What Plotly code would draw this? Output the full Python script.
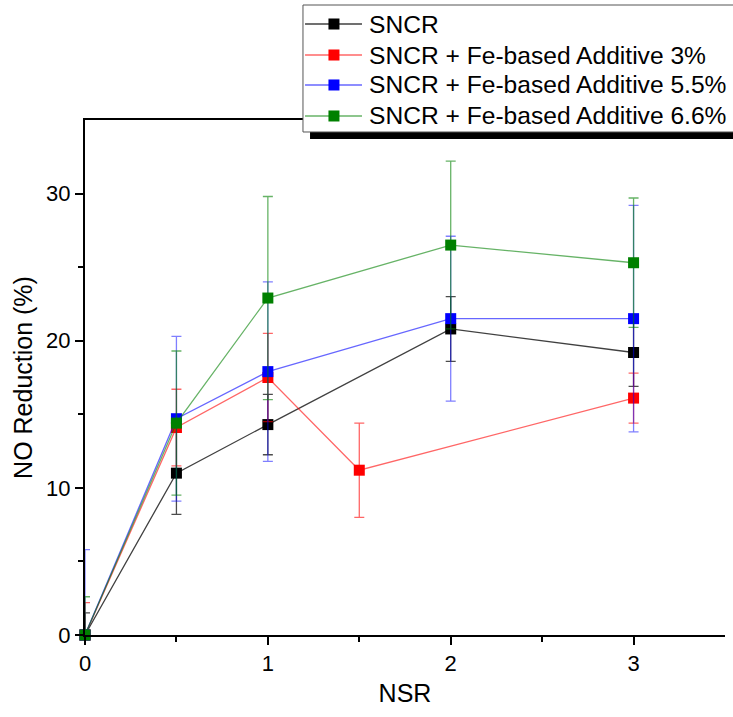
import plotly.graph_objects as go

x_sncr = [0, 0.5, 1, 2, 3]
y_sncr = [0, 11.0, 14.3, 20.8, 19.2]
e_sncr = [1.5, 2.8, 2.05, 2.2, 2.3]

x_fe3 = [0, 0.5, 1, 1.5, 3]
y_fe3 = [0, 14.1, 17.5, 11.2, 16.1]
e_fe3 = [2.2, 2.6, 3.0, 3.2, 1.7]

x_fe55 = [0, 0.5, 1, 2, 3]
y_fe55 = [0, 14.7, 17.9, 21.5, 21.5]
e_fe55 = [5.8, 5.6, 6.1, 5.6, 7.7]

x_fe66 = [0, 0.5, 1, 2, 3]
y_fe66 = [0, 14.4, 22.9, 26.5, 25.3]
e_fe66 = [2.6, 4.9, 6.9, 5.7, 4.4]

names = ["SNCR", "SNCR + Fe-based Additive 3%",
         "SNCR + Fe-based Additive 5.5%", "SNCR + Fe-based Additive 6.6%"]

series = [
    (x_sncr, y_sncr, e_sncr, "#000000", "rgba(0,0,0,0.75)", "rgba(0,0,0,0.7)"),
    (x_fe3, y_fe3, e_fe3, "#ff0000", "rgba(255,0,0,0.6)", "rgba(255,0,0,0.6)"),
    (x_fe55, y_fe55, e_fe55, "#0000ff", "rgba(0,0,255,0.6)", "rgba(0,0,255,0.5)"),
    (x_fe66, y_fe66, e_fe66, "#008000", "rgba(0,128,0,0.6)", "rgba(0,128,0,0.6)"),
]

fig = go.Figure()
for name, (xs, ys, es, mc, lc, ec) in zip(names, series):
    fig.add_trace(go.Scatter(
        x=xs, y=ys, name=name, mode="lines+markers",
        line=dict(color=lc, width=1.3),
        marker=dict(symbol="square", size=11, color=mc),
        error_y=dict(type="data", array=es, visible=True, color=ec,
                     thickness=1.3, width=5),
        cliponaxis=False, showlegend=False,
    ))

# Legend drawn as a boxed key above the top-right of the plot (paper coords)
shapes = [
    dict(type="rect", xref="paper", yref="paper", x0=0.3516, x1=1.03,
         y0=0.963, y1=0.978, fillcolor="black", line=dict(width=0), layer="above"),
    dict(type="rect", xref="paper", yref="paper", x0=0.3406, x1=1.03,
         y0=0.9767, y1=1.2233, fillcolor="white",
         line=dict(color="#555555", width=1), layer="above"),
]
annotations = []
row_y = [1.1864, 1.1262, 1.0680, 1.0078]
dx, dy = 0.0086, 0.0107
for name, (xs, ys, es, mc, lc, ec), ry in zip(names, series, row_y):
    shapes.append(dict(type="line", xref="paper", yref="paper", x0=0.3438,
                       x1=0.4328, y0=ry, y1=ry, line=dict(color=lc, width=1.3),
                       layer="above"))
    shapes.append(dict(type="rect", xref="paper", yref="paper", x0=0.389 - dx,
                       x1=0.389 + dx, y0=ry - dy, y1=ry + dy, fillcolor=mc,
                       line=dict(width=0), layer="above"))
    annotations.append(dict(xref="paper", yref="paper", x=0.4406, y=ry,
                            xanchor="left", yanchor="middle", text=name,
                            showarrow=False, font=dict(size=24.6, color="black")))

fig.update_layout(
    width=733, height=717,
    paper_bgcolor="white", plot_bgcolor="white",
    margin=dict(l=85, r=8, t=120, b=82, autoexpand=False),
    font=dict(family="Arial, Liberation Sans, sans-serif", color="black", size=22),
    showlegend=False,
    shapes=shapes, annotations=annotations,
)
fig.update_xaxes(
    range=[0, 3.5], tickvals=[0, 1, 2, 3], ticks="outside", ticklen=8,
    tickwidth=2, tickcolor="black", showline=True, linecolor="black",
    linewidth=2, mirror=True, showgrid=False, zeroline=False,
    minor=dict(tickvals=[0.5, 1.5, 2.5], ticks="outside", ticklen=5,
               tickwidth=2, tickcolor="black"),
    title=dict(text="NSR", font=dict(size=25), standoff=9),
    tickfont=dict(size=22), automargin=False,
)
fig.update_yaxes(
    range=[0, 35], tickvals=[0, 10, 20, 30], ticks="outside", ticklen=8,
    tickwidth=2, tickcolor="black", showline=True, linecolor="black",
    linewidth=2, showgrid=False, zeroline=False,
    minor=dict(tickvals=[5, 15, 25], ticks="outside", ticklen=5,
               tickwidth=2, tickcolor="black"),
    title=dict(text="NO Reduction (%)", font=dict(size=25), standoff=6),
    tickfont=dict(size=22), automargin=False,
)
fig.write_html("out.html", config={"displayModeBar": False},
               post_script="document.body.style.margin='0';"
                           "document.body.style.overflow='hidden';")
